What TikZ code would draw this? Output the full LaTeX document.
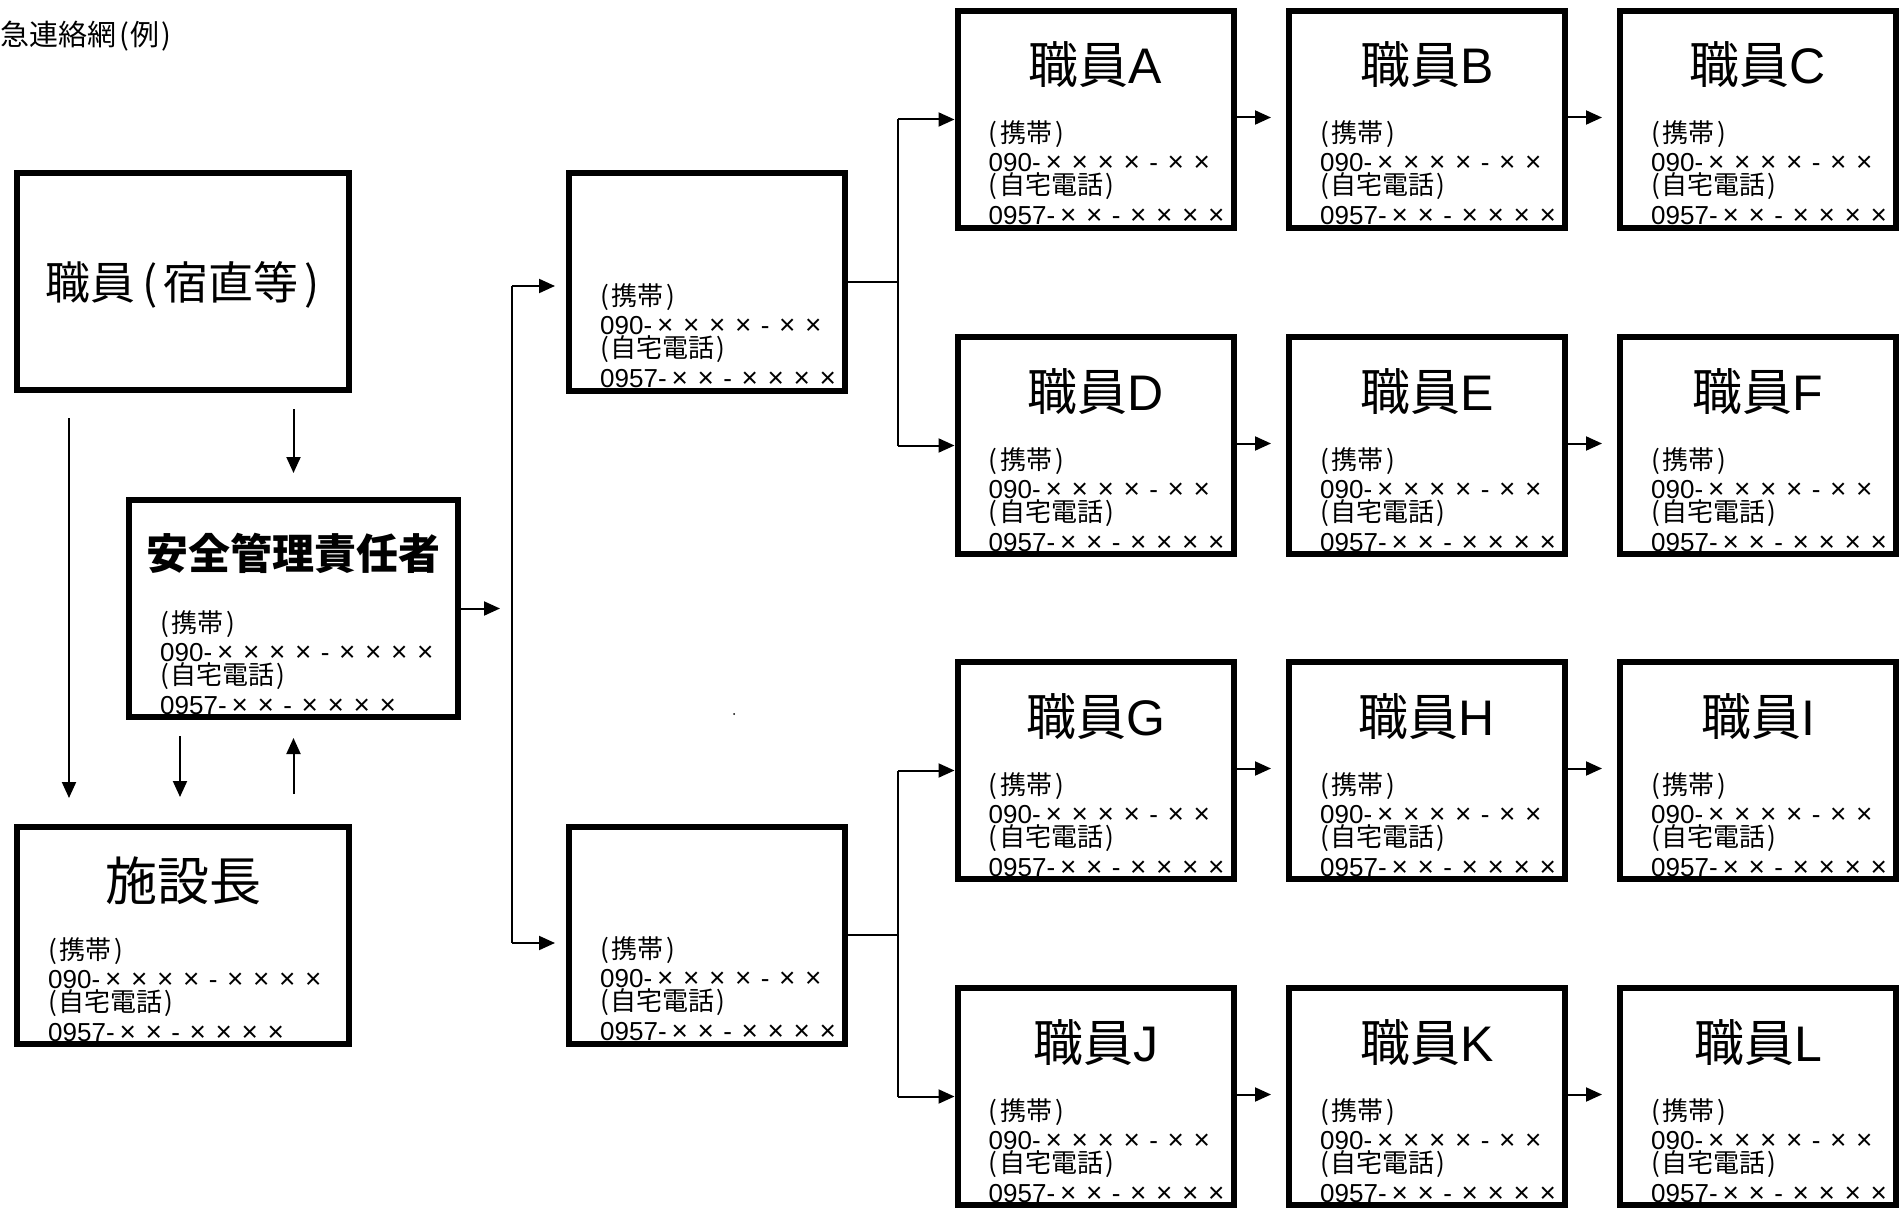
\documentclass[tikz,border=0pt]{standalone}
\usepackage{fontspec}
\usepackage{graphicx}
\setmainfont{Liberation Sans}
\newfontfamily\cjk{Noto Sans CJK JP}
\usetikzlibrary{arrows.meta,calc}

\newcommand{\xm}{\makebox[26pt]{\fontsize{28}{28}\selectfont ×}}
\newcommand{\hy}{\makebox[18pt]{-}}
\newcommand{\fs}[1]{\fontsize{#1}{#1}\selectfont}
\newcommand{\mobS}{090-\xm\xm\xm\xm\hy\xm\xm}
\newcommand{\mobL}{090-\xm\xm\xm\xm\hy\xm\xm\xm\xm}
\newcommand{\homeno}{0957-\xm\xm\hy\xm\xm\xm\xm}

\tikzset{
  box/.style={draw, line width=6pt, inner sep=0pt, minimum height=217pt},
  info/.style={anchor=base west, inner sep=0pt, font=\fs{26}},
  ttl/.style={anchor=base, inner sep=0pt},
  arr/.style={line width=2pt, -{Triangle[length=16pt,width=14pt]}},
  conn/.style={line width=2pt},
}

\newcommand{\infolines}[3]{%
  \node[info] (#1-a) at ($(#1.north west)+(34,135)$) {\cjk (\hspace{3pt}携帯\hspace{3pt})};
  \node[info] (#1-b) at ($(#1.north west)+(34,164)$) {#2};
  \node[info] (#1-c) at ($(#1.north west)+(34,187)$) {\cjk (\hspace{2pt}自宅電話\hspace{2pt})};
  \node[info] (#1-d) at ($(#1.north west)+(34,217)$) {#3};
}
\newcommand{\staff}[4]{%
  \node[box, minimum width=276pt] (#1) at (#2,#3) {};
  \node[ttl, font=\fs{50}] (#1-t) at ($(#1.north)+(0,76)$) {{\cjk 職員}#4};
  \infolines{#1}{\mobS}{\homeno}
}

\begin{document}
\begin{tikzpicture}[x=1pt,y=-1pt]
\fill[white] (0,0) rectangle (1899,1209);
\useasboundingbox (0,0) rectangle (1899,1209);

% title
\node[anchor=base west, inner sep=0pt, font=\fs{29}] (title) at (0,46) {\cjk 急連絡網\hspace{3pt}(\hspace{2pt}例\hspace{2pt})};

% left column
\node[box, minimum width=332pt] (S) at (183,281.5) {};
\node[ttl, font=\fs{45}] (S-t) at ($(S.north)+(0,129)$) {\cjk 職員\hspace{7pt}(\hspace{6pt}宿直等\hspace{6pt})};

\node[box, minimum width=329pt] (M) at (293.5,608.5) {};
\node[ttl, font=\fs{42}] (M-t) at ($(M.north)+(0,72)$) {\cjk\bfseries 安全管理責任者};
\infolines{M}{\mobL}{\homeno}

\node[box, minimum width=332pt] (H) at (183,935.5) {};
\node[ttl, font=\fs{52}] (H-t) at ($(H.north)+(0,76)$) {\cjk 施設長};
\infolines{H}{\mobL}{\homeno}

% middle column
\node[box, minimum width=276pt] (P1) at (707,282) {};
\infolines{P1}{\mobS}{\homeno}
\node[box, minimum width=276pt] (P2) at (707,935) {};
\infolines{P2}{\mobS}{\homeno}

% staff
\staff{A}{1095.5}{119.5}{A}
\staff{B}{1427}{119.5}{B}
\staff{C}{1758}{119.5}{C}
\staff{D}{1095.5}{445.5}{D}
\staff{E}{1427}{445.5}{E}
\staff{F}{1758}{445.5}{F}
\staff{G}{1095.5}{770.5}{G}
\staff{Hs}{1427}{770.5}{H}
\staff{I}{1758}{770.5}{I}
\staff{J}{1095.5}{1096.5}{J}
\staff{K}{1427}{1096.5}{K}
\staff{L}{1758}{1096.5}{L}

% left connectors
\draw[arr] ($(S.south -| M.north)+(0,16)$) -- ($(M.north)+(0,-24)$);
\draw[arr] ($(H.north -| M.south)+(0,-30)$) -- ($(M.south)+(0,18)$);
\draw[arr] ($(M.south)+(-113.5,16)$) -- ($(H.north)+(-3,-27)$);
\draw[arr] ($(S.south)+(-114,25)$) -- ($(H.north)+(-114,-26)$);
\draw[arr] (M.east) -- ($(M.east)+(39,0)$);

% trunk to middle boxes
\coordinate (t1) at ($(P1.west)+(-54,4)$);
\coordinate (t2) at ($(P2.west)+(-54,8)$);
\draw[conn] (t1) -- (t2);
\draw[arr] (t1) -- ($(P1.west)+(-11,4)$);
\draw[arr] (t2) -- ($(P2.west)+(-11,8)$);

% middle to staff
\coordinate (j1) at ($(P1.east)+(50,0)$);
\coordinate (j2) at ($(P2.east)+(50,0)$);
\draw[conn] (P1.east) -- (j1);
\draw[conn] (P2.east) -- (j2);
\draw[conn] (j1 |- A.west) -- (j1 |- D.west);
\draw[conn] (j2 |- G.west) -- (j2 |- J.west);
\draw[arr] (j1 |- A.west) -- (A.west);
\draw[arr] (j1 |- D.west) -- (D.west);
\draw[arr] (j2 |- G.west) -- (G.west);
\draw[arr] (j2 |- J.west) -- (J.west);

% along rows
\foreach \a/\b in {A/B,B/C,D/E,E/F,G/Hs,Hs/I,J/K,K/L}{
  \draw[arr] ($(\a.east)+(0,-2)$) -- ($(\b.west)+(-15,-2)$);
}

% stray dot
\fill (734,714) circle (1pt);
\end{tikzpicture}
\end{document}
